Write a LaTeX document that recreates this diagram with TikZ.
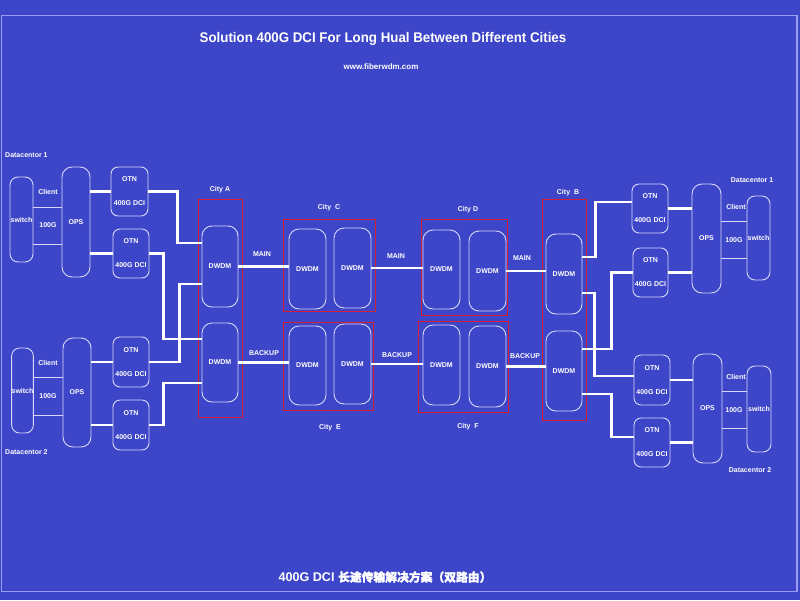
\documentclass[tikz,border=0pt]{standalone}
\usepackage{fontspec}
\setmainfont{Liberation Sans}
\newfontfamily\cjk{Noto Sans CJK SC}[FakeBold=1.5]
\usetikzlibrary{calc}
\definecolor{bg}{HTML}{3D45C8}
\definecolor{framec}{HTML}{9A9CF0}
\definecolor{boxc}{HTML}{D8D9FA}
\definecolor{cityred}{HTML}{D81E30}
\tikzset{
  box/.style={draw=boxc, line width=0.9pt, rounded corners=7pt, inner sep=0pt,
    text=white, font=\bfseries\fontsize{7}{24}\selectfont, align=center},
  swbox/.style={box, rounded corners=8pt},
  link/.style={draw=white, line width=2.7pt},
  thinlink/.style={draw=boxc, line width=0.9pt},
  citybox/.style={draw=cityred, line width=1.3pt},
  lbl/.style={text=white, font=\bfseries\fontsize{7}{8}\selectfont, inner sep=0pt},
}
\begin{document}
\begin{tikzpicture}[x=1pt,y=-1pt]
\fill[bg] (0,0) rectangle (800,600);
\useasboundingbox (0,0) rectangle (800,600);
\draw[framec, line width=1.3pt] (1.5,15.5) rectangle (797,591.5);

% titles
\node[text=white, font=\bfseries\fontsize{14}{16}\selectfont] (title) at (383,39) {\scalebox{0.95}[1]{Solution 400G DCI For Long Hual Between Different Cities}};
\node[text=white, font=\bfseries\fontsize{8}{10}\selectfont] (web) at (381,67) {www.fiberwdm.com};
\node[text=white, font=\bfseries\fontsize{12.6}{15}\selectfont] (bottom) at (385,577) {400G DCI {\cjk\fontsize{11.8}{15}\selectfont 长途传输解决方案（双路由）}};

% left datacenter 1
\node[swbox, minimum width=23pt, minimum height=85pt] (sw1) at (21.5,219.5) {switch};
\node[box, rounded corners=10pt, minimum width=28pt, minimum height=110pt] (ops1) at (76,222) {OPS};
\node[box, minimum width=37pt, minimum height=49pt] (otn1) at (129.5,191.5) {OTN\\400G DCI};
\node[box, minimum width=36pt, minimum height=49pt] (otn2) at (131,253.5) {OTN\\400G DCI};
\node[lbl, anchor=west] (dc1l) at (5,155) {Datacentor 1};
\node[lbl] (cl1) at (48,192) {Client};
\node[lbl] (g1) at (48,225) {100G};

% left datacenter 2
\node[swbox, minimum width=21pt, minimum height=85pt] (sw2) at (22.5,390.5) {switch};
\node[box, rounded corners=10pt, minimum width=28pt, minimum height=109pt] (ops2) at (77,392.5) {OPS};
\node[box, minimum width=36pt, minimum height=50pt] (otn3) at (131,362) {OTN\\400G DCI};
\node[box, minimum width=36pt, minimum height=50pt] (otn4) at (131,425) {OTN\\400G DCI};
\node[lbl, anchor=west] (dc2l) at (5,452) {Datacentor 2};
\node[lbl] (cl2) at (48,363) {Client};
\node[lbl] (g2) at (48,396) {100G};

% City A
\draw[citybox] (198.5,199.5) rectangle (242.5,417.5);
\node[lbl] (cA) at (220,190) {City A};
\node[box, rounded corners=10pt, minimum width=36pt, minimum height=81pt] (dAt) at (220,266.5) {DWDM};
\node[box, rounded corners=10pt, minimum width=36pt, minimum height=79pt] (dAb) at (220,362.5) {DWDM};

% City C
\draw[citybox] (283.5,219.5) rectangle (375.5,311.5);
\node[lbl] (cC) at (329,208) {City\ \ C};
\node[box, rounded corners=10pt, minimum width=37pt, minimum height=80pt] (dC1) at (307.5,269) {DWDM};
\node[box, rounded corners=10pt, minimum width=37pt, minimum height=80pt] (dC2) at (352.5,268) {DWDM};

% City E
\draw[citybox] (283.5,322.5) rectangle (373.5,410.5);
\node[lbl] (cE) at (330,428) {City\ \ E};
\node[box, rounded corners=10pt, minimum width=37pt, minimum height=79pt] (dE1) at (307.5,365.5) {DWDM};
\node[box, rounded corners=10pt, minimum width=37pt, minimum height=80pt] (dE2) at (352.5,364) {DWDM};

% City D
\draw[citybox] (421.5,219.5) rectangle (507.5,315.5);
\node[lbl] (cD) at (468,210) {City D};
\node[box, rounded corners=10pt, minimum width=37pt, minimum height=79pt] (dD1) at (441.5,269.5) {DWDM};
\node[box, rounded corners=10pt, minimum width=37pt, minimum height=80pt] (dD2) at (487.5,271) {DWDM};

% City F
\draw[citybox] (418.5,321.5) rectangle (508.5,412.5);
\node[lbl] (cF) at (468,427) {City\ \ F};
\node[box, rounded corners=10pt, minimum width=37pt, minimum height=80pt] (dF1) at (441.5,365) {DWDM};
\node[box, rounded corners=10pt, minimum width=37pt, minimum height=81pt] (dF2) at (487.5,366.5) {DWDM};

% City B
\draw[citybox] (542.5,199.5) rectangle (586.5,420.5);
\node[lbl] (cB) at (568,193) {City\ \ B};
\node[box, rounded corners=10pt, minimum width=36pt, minimum height=80pt] (dBt) at (564,274) {DWDM};
\node[box, rounded corners=10pt, minimum width=36pt, minimum height=80pt] (dBb) at (564,371) {DWDM};

% right datacenter 1
\node[box, minimum width=36pt, minimum height=49pt] (otnR1) at (650,208.5) {OTN\\400G DCI};
\node[box, minimum width=35pt, minimum height=49pt] (otnR2) at (650.5,272.5) {OTN\\400G DCI};
\node[box, rounded corners=10pt, minimum width=29pt, minimum height=109pt] (opsR1) at (706.5,238.5) {OPS};
\node[swbox, minimum width=23pt, minimum height=84pt] (swR1) at (758.5,238) {switch};
\node[lbl] (dc1r) at (752,180) {Datacentor 1};
\node[lbl] (cl3) at (736,207) {Client};
\node[lbl] (g3) at (734,240) {100G};

% right datacenter 2
\node[box, minimum width=36pt, minimum height=50pt] (otnR3) at (652,380) {OTN\\400G DCI};
\node[box, minimum width=36pt, minimum height=49pt] (otnR4) at (652,442.5) {OTN\\400G DCI};
\node[box, rounded corners=10pt, minimum width=29pt, minimum height=109pt] (opsR2) at (707.5,408.5) {OPS};
\node[swbox, minimum width=24pt, minimum height=86pt] (swR2) at (759,409) {switch};
\node[lbl] (dc2r) at (750,470) {Datacentor 2};
\node[lbl] (cl4) at (736,377) {Client};
\node[lbl] (g4) at (734,410) {100G};

% link labels
\node[lbl] (m1) at (262,254) {MAIN};
\node[lbl] (b1) at (264,353) {BACKUP};
\node[lbl] (m2) at (396,256) {MAIN};
\node[lbl] (b2) at (397,355) {BACKUP};
\node[lbl] (m3) at (522,258) {MAIN};
\node[lbl] (b3) at (525,356) {BACKUP};

% client lines
\draw[thinlink] (sw1.east |- 0,207) -- (ops1.west |- 0,207);
\draw[thinlink] (sw1.east |- 0,244) -- (ops1.west |- 0,244);
\draw[thinlink] (sw2.east |- 0,377) -- (ops2.west |- 0,377);
\draw[thinlink] (sw2.east |- 0,415) -- (ops2.west |- 0,415);
\draw[thinlink] (opsR1.east |- 0,221) -- (swR1.west |- 0,221);
\draw[thinlink] (opsR1.east |- 0,258) -- (swR1.west |- 0,258);
\draw[thinlink] (opsR2.east |- 0,391) -- (swR2.west |- 0,391);
\draw[thinlink] (opsR2.east |- 0,428) -- (swR2.west |- 0,428);

% OPS - OTN
\draw[link] (ops1.east |- otn1.west) -- (otn1.west);
\draw[link] (ops1.east |- otn2.west) -- (otn2.west);
\draw[link] (ops2.east |- otn3.west) -- (otn3.west);
\draw[link] (ops2.east |- otn4.west) -- (otn4.west);
\draw[link] (otnR1.east) -- (opsR1.west |- otnR1.east);
\draw[link] (otnR2.east) -- (opsR1.west |- otnR2.east);
\draw[link] (otnR3.east) -- (opsR2.west |- otnR3.east);
\draw[link] (otnR4.east) -- (opsR2.west |- otnR4.east);

% OTN - City A
\draw[link] (otn1.east) -- ++(29,0) |- ($(dAt.west)+(0,-23.5)$);
\draw[link] (otn2.east) -- ++(14,0) |- ($(dAb.west)+(0,-23.5)$);
\draw[link] (otn3.east) -- ++(30,0) |- ($(dAt.west)+(0,17.5)$);
\draw[link] (otn4.east) -- ++(14,0) |- ($(dAb.west)+(0,20.5)$);

% City B - OTN
\draw[link] ($(dBt.east)+(0,-17)$) -- ++(13,0) |- ($(otnR1.west)+(0,-6.5)$);
\draw[link] ($(dBt.east)+(0,19)$) -- ++(12,0) |- ($(otnR3.west)+(0,-4)$);
\draw[link] ($(dBb.east)+(0,-22)$) -- ++(29,0) |- (otnR2.west);
\draw[link] ($(dBb.east)+(0,23)$) -- ++(29,0) |- ($(otnR4.west)+(0,-5.5)$);

% long haul links
\draw[link] (dAt.east) -- (dC1.west |- dAt.east);
\draw[link] (dC2.east) -- (dD1.west |- dC2.east);
\draw[link] (dD2.east) -- (dBt.west |- dD2.east);
\draw[link] (dAb.east) -- (dE1.west |- dAb.east);
\draw[link] (dE2.east) -- (dF1.west |- dE2.east);
\draw[link] (dF2.east) -- (dBb.west |- dF2.east);
\end{tikzpicture}
\end{document}
